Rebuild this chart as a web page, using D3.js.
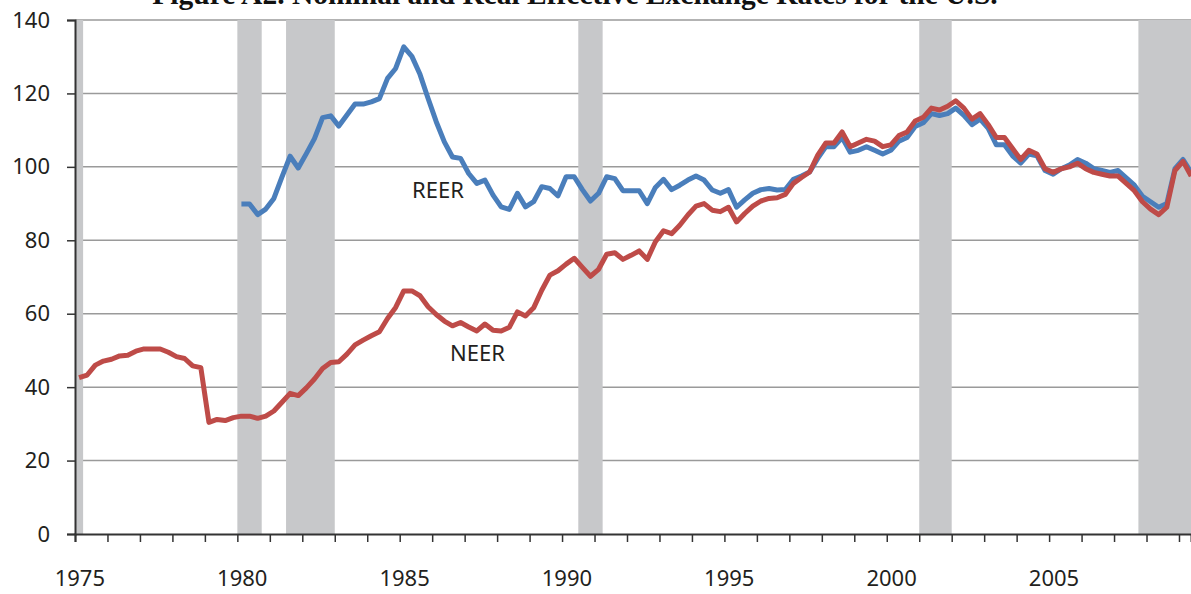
<!DOCTYPE html>
<html>
<head>
<meta charset="utf-8">
<script src="https://cdn.jsdelivr.net/npm/d3@7"></script>
<style>
  body { margin: 0; background: #fff; }
  svg { display: block; }
</style>
</head>
<body>
<svg id="chart" width="1191" height="594"></svg>
<script>
// quarterly series, NEER from 1975Q1, REER from 1980Q1
const neerStart = 1975;
const neer = [
  42.6, 43.3, 46.0, 47.1, 47.6, 48.5, 48.7, 49.8, 50.4, 50.4, 50.4, 49.5, 48.3, 47.8, 45.8, 45.3, 30.4, 31.2, 30.9, 31.7,
  32.1, 32.1, 31.5, 32.1, 33.5, 35.9, 38.3, 37.7, 39.8, 42.2, 45.1, 46.7, 46.9, 49.0, 51.5, 52.8, 54.0, 55.1, 58.7, 61.7,
  66.2, 66.2, 64.9, 61.9, 59.8, 58.0, 56.7, 57.6, 56.4, 55.3, 57.2, 55.5, 55.3, 56.3, 60.5, 59.4, 61.6, 66.4, 70.5, 71.7,
  73.5, 75.1, 72.6, 70.2, 72.1, 76.2, 76.6, 74.8, 75.9, 77.1, 74.8, 79.6, 82.6, 81.8, 84.1, 86.9, 89.3, 90.0, 88.2, 87.8,
  89.0, 85.0, 87.3, 89.3, 90.7, 91.4, 91.6, 92.5, 95.5, 97.1, 98.6, 103.2, 106.5, 106.5, 109.5, 105.5, 106.5, 107.5, 107.0, 105.5,
  106.0, 108.5, 109.5, 112.5, 113.5, 116.0, 115.5, 116.5, 118.0, 116.0, 113.0, 114.5, 111.5, 108.0, 108.0, 105.0, 102.0, 104.5, 103.5, 99.5,
  98.5, 99.5, 100.0, 101.0, 99.5, 98.5, 98.0, 97.5, 97.5, 95.5, 93.5, 90.5, 88.5, 87.0, 89.0, 99.0, 101.5, 97.5
];
const reerStart = 1980;
const reer = [
  89.9, 89.9, 87.0, 88.5, 91.4, 97.3, 102.9, 99.7, 103.6, 107.7, 113.4, 113.9, 111.1, 114.1, 117.1, 117.1, 117.7, 118.6, 124.1, 126.8,
  132.7, 130.1, 125.2, 118.6, 112.3, 106.8, 102.7, 102.3, 98.2, 95.5, 96.4, 92.3, 89.1, 88.4, 92.8, 89.1, 90.5, 94.6, 94.1, 92.1,
  97.3, 97.3, 93.8, 90.7, 92.8, 97.3, 96.8, 93.5, 93.5, 93.5, 90.0, 94.4, 96.6, 93.8, 95.0, 96.4, 97.5, 96.4, 93.7, 92.8,
  93.8, 89.0, 91.0, 92.8, 93.8, 94.1, 93.7, 93.8, 96.6, 97.5, 98.6, 102.3, 105.5, 105.5, 108.0, 104.0, 104.5, 105.5, 104.5, 103.5,
  104.5, 107.0, 108.0, 111.0, 112.0, 114.5, 114.0, 114.5, 116.0, 114.0, 111.5, 113.0, 110.5, 106.0, 106.0, 103.0, 101.0, 103.5, 103.0, 99.0,
  98.0, 99.5, 100.5, 102.0, 101.0, 99.5, 99.0, 98.5, 99.0, 97.0, 95.0, 92.0, 90.5, 89.0, 90.0, 99.5, 102.0, 98.5
];
// recessions (start, end) in years
const recStart = [1974.75, 1980.0, 1981.5, 1990.5, 2001.0, 2007.75];
const recEnd   = [1975.25, 1980.75, 1983.0, 1991.25, 2002.0, 2009.5];
const yTicks = [0, 20, 40, 60, 80, 100, 120, 140];
const yearLabels = [1975, 1980, 1985, 1990, 1995, 2000, 2005];

const svg = d3.select("#chart");
const m = { left: 75, right: 1191, top: 20, bottom: 534 };

const x = d3.scaleLinear().domain([1975, 2009.37]).range([m.left, m.right]);
const y = d3.scaleLinear().domain([0, 140]).range([m.bottom, m.top]);

const toPoints = (vals, start) => vals.map((v, i) => ({ t: start + i / 4 + 0.125, v: v }));

svg.append("defs").append("clipPath").attr("id", "plot")
  .append("rect").attr("x", m.left).attr("y", m.top - 5)
  .attr("width", m.right - m.left).attr("height", m.bottom - m.top + 5);

// title, cut by the top edge as in the source page
svg.append("text")
  .attr("x", 575).attr("y", 4)
  .attr("text-anchor", "middle")
  .style("font-family", "'Liberation Serif', serif")
  .style("font-weight", "bold")
  .style("font-size", "29.5px")
  .attr("fill", "#111")
  .text("Figure A2. Nominal and Real Effective Exchange Rates for the U.S.");

// gridlines
svg.append("g")
  .selectAll("line")
  .data(yTicks.filter(d => d > 0))
  .enter().append("line")
  .attr("x1", m.left).attr("x2", m.right)
  .attr("y1", d => y(d)).attr("y2", d => y(d))
  .attr("stroke", "#9a9a9a")
  .attr("stroke-width", 1.5);

// recession bands
svg.append("g")
  .attr("clip-path", "url(#plot)")
  .selectAll("rect")
  .data(recStart.map((s, i) => [s, recEnd[i]]))
  .enter().append("rect")
  .attr("x", d => x(d[0]))
  .attr("width", d => x(d[1]) - x(d[0]))
  .attr("y", y(140))
  .attr("height", y(0) - y(140))
  .attr("fill", "#c7c8ca");

// y axis
const yAxis = svg.append("g")
  .attr("transform", `translate(${m.left},0)`)
  .call(d3.axisLeft(y).tickValues(yTicks).tickSize(8).tickPadding(17));
yAxis.select(".domain").attr("stroke", "#333").attr("stroke-width", 2);
yAxis.selectAll(".tick line").attr("stroke", "#333").attr("stroke-width", 1.5);
yAxis.selectAll("text")
  .style("font-family", "'Noto Sans', sans-serif")
  .style("font-size", "22px")
  .attr("fill", "#231f20");

// x axis
const xAxis = svg.append("g")
  .attr("transform", `translate(0,${m.bottom})`)
  .call(d3.axisBottom(x).tickValues(d3.range(1975, 2010)).tickSize(8).tickFormat(""));
xAxis.select(".domain").attr("stroke", "#333").attr("stroke-width", 2);
xAxis.selectAll(".tick line").attr("stroke", "#333").attr("stroke-width", 1.5);

svg.append("g")
  .selectAll("text")
  .data(yearLabels)
  .enter().append("text")
  .attr("x", d => x(d + 0.15))
  .attr("y", 586)
  .attr("text-anchor", "middle")
  .style("font-family", "'Noto Sans', sans-serif")
  .style("font-size", "22px")
  .attr("fill", "#231f20")
  .text(d => d);

// lines
const line = d3.line().x(d => x(d.t)).y(d => y(d.v));
const lines = svg.append("g").attr("clip-path", "url(#plot)");
lines.append("path")
  .datum(toPoints(reer, reerStart))
  .attr("d", line)
  .attr("fill", "none")
  .attr("stroke", "#4a7ebb")
  .attr("stroke-width", 5)
  .attr("stroke-linejoin", "round");
lines.append("path")
  .datum(toPoints(neer, neerStart))
  .attr("d", line)
  .attr("fill", "none")
  .attr("stroke", "#be4b48")
  .attr("stroke-width", 5)
  .attr("stroke-linejoin", "round");

// series labels
svg.append("text").attr("x", 412).attr("y", 198)
  .style("font-family", "'Noto Sans', sans-serif").style("font-size", "22px")
  .attr("fill", "#231f20").text("REER");
svg.append("text").attr("x", 450).attr("y", 361)
  .style("font-family", "'Noto Sans', sans-serif").style("font-size", "22px")
  .attr("fill", "#231f20").text("NEER");
</script>
</body>
</html>
